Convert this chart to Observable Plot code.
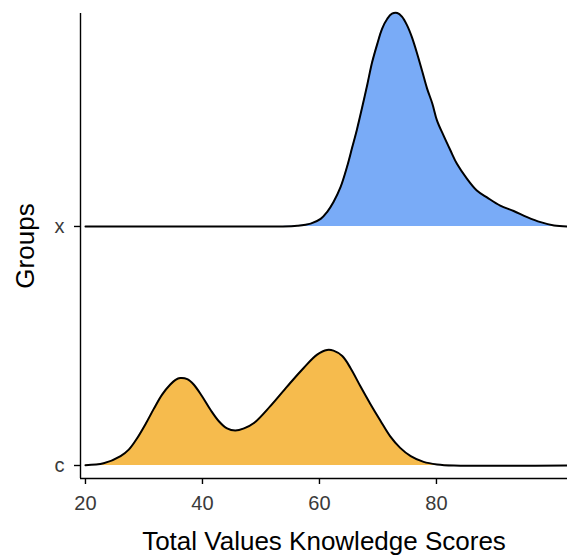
<!DOCTYPE html>
<html>
<head>
<meta charset="utf-8">
<script src="https://cdn.jsdelivr.net/npm/d3@7"></script>
<script src="https://cdn.jsdelivr.net/npm/@observablehq/plot@0.6"></script>
<style>
  html, body { margin: 0; padding: 0; background: #fff; }
  #chart svg { display: block; }
</style>
</head>
<body>
<div id="chart"></div>
<script>
// Groups, bottom to top
const groups = ["c", "x"];

// Estimated density of scores, group c
const cScores  = [20, 23.1, 26.0, 27.4, 28.8, 30.3, 31.7, 33.1, 34.5, 35.4, 36.2, 37.4, 38.5, 39.9, 41.4, 42.8, 44.2, 45.6, 47.1, 48.8, 51.6, 54.5, 57.3, 59.6, 61.3, 62.4, 63.9, 65.3, 67.0, 68.7, 70.4, 72.1, 73.8, 75.6, 77.8, 80.1, 83.0, 102.4];
const cDensity = [0.0001, 0.0006, 0.0026, 0.0044, 0.0075, 0.0116, 0.0158, 0.0197, 0.0225, 0.0238, 0.0243, 0.0240, 0.0225, 0.0193, 0.0154, 0.0123, 0.0103, 0.0097, 0.0103, 0.0118, 0.0165, 0.0220, 0.0271, 0.0308, 0.0321, 0.0319, 0.0304, 0.0271, 0.0220, 0.0171, 0.0125, 0.0081, 0.0049, 0.0026, 0.0010, 0.0003, 0.0000, 0.0000];

// Estimated density of scores, group x
const xScores  = [20, 40, 53.3, 56.2, 58.5, 60.2, 61.3, 62.4, 63.6, 64.7, 65.6, 66.4, 67.3, 68.2, 69.0, 69.9, 70.7, 71.6, 72.4, 73.3, 74.1, 75.0, 75.8, 76.7, 77.6, 78.4, 79.3, 80.1, 81.2, 82.4, 83.5, 85.2, 86.9, 88.7, 90.9, 93.2, 95.5, 97.8, 100.1, 102.4];
const xDensity = [0.0000, 0.0000, 0.0000, 0.0002, 0.0008, 0.0021, 0.0040, 0.0068, 0.0109, 0.0165, 0.0220, 0.0269, 0.0331, 0.0396, 0.0456, 0.0508, 0.0549, 0.0577, 0.0591, 0.0593, 0.0583, 0.0558, 0.0526, 0.0480, 0.0429, 0.0383, 0.0341, 0.0294, 0.0253, 0.0211, 0.0174, 0.0133, 0.0100, 0.0080, 0.0058, 0.0043, 0.0026, 0.0012, 0.0003, 0.0000];

const xTicks = [20, 40, 60, 80];
const fills = {c: "#F6BB4D", x: "#79ABF7"};

// Ridge height (in group spacings) per unit of density
const ridgeScale = 15.06;
const xDomain = [19.15, 102.4];
const yDomain = [-0.0544, 1.891];

const ridge = (g, scores, dens) => scores.map((s, i) => ({
  group: g, score: s, base: groups.indexOf(g), top: groups.indexOf(g) + dens[i] * ridgeScale
}));
const rows = [...ridge("x", xScores, xDensity), ...ridge("c", cScores, cDensity)];

const plot = Plot.plot({
  width: 567,
  height: 557,
  marginLeft: 80,
  marginRight: 0,
  marginTop: 13,
  marginBottom: 79,
  style: {fontFamily: "'Liberation Sans', Arial, sans-serif", color: "#3a3a3a"},
  x: {domain: xDomain},
  y: {domain: yDomain},
  marks: [
    Plot.areaY(rows, {x: "score", y1: "base", y2: "top", z: "group", fill: d => fills[d.group], curve: "catmull-rom"}),
    Plot.lineY(rows, {x: "score", y: "top", z: "group", stroke: "#000", strokeWidth: 2, curve: "catmull-rom"}),
    Plot.ruleX([xDomain[0]], {stroke: "#000", strokeWidth: 1.4}),
    Plot.ruleY([yDomain[0]], {stroke: "#000", strokeWidth: 1.4}),
    Plot.axisX({ticks: xTicks, tickSize: 6, tickPadding: 11, stroke: "#000", strokeWidth: 1.4,
      label: "Total Values Knowledge Scores", labelAnchor: "center", labelArrow: "none", labelOffset: 71}),
    Plot.axisY({ticks: [0, 1], tickFormat: d => groups[d], tickSize: 6, tickPadding: 10, stroke: "#000", strokeWidth: 1.4,
      label: "Groups", labelAnchor: "center", labelArrow: "none", labelOffset: 65})
  ]
});

const svg = d3.select(plot);
svg.selectAll("[aria-label='x-axis tick label'] text, [aria-label='y-axis tick label'] text")
  .style("font-size", "20px");
// Axis titles are larger than tick labels
svg.selectAll("[aria-label='x-axis label'] text, [aria-label='y-axis label'] text")
  .style("font-size", "26px").attr("fill", "#000");
document.getElementById("chart").appendChild(plot);
</script>
</body>
</html>
